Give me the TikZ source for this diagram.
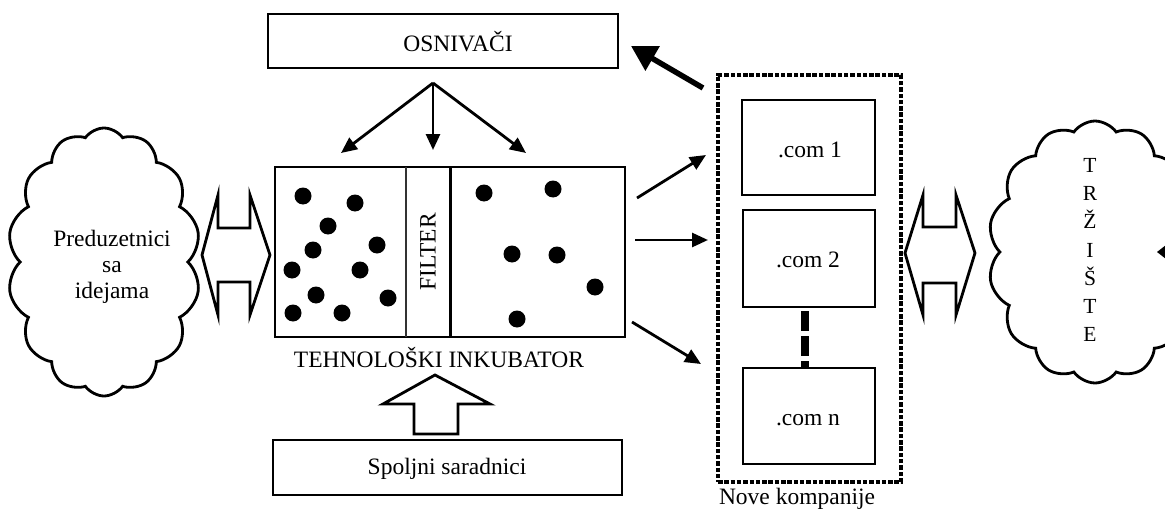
\documentclass[tikz,border=0pt]{standalone}
\usepackage{fontspec}
\setmainfont{Liberation Serif}
\usetikzlibrary{shapes.symbols,arrows.meta}
\begin{document}
\begin{tikzpicture}[x=1pt,y=-1pt,
  every node/.style={font=\fontsize{23.5}{27}\selectfont},
  box/.style={draw, line width=2.8pt, inner sep=0pt},
  arr/.style={line width=2.8pt, -{Triangle[length=16pt,width=14pt]}},
  bigarr/.style={line width=5.5pt, -{Triangle[length=25pt,width=27pt]}},
  hollow/.style={draw, line width=2.8pt, fill=white, line join=miter},
  dot/.style={fill=black},
  cloudbox/.style={cloud, draw, line width=2.8pt, cloud ignores aspect, inner sep=0pt}]
\useasboundingbox (0,0) rectangle (1165,511);
\clip (0,0) rectangle (1165,511);

% founders
\node[box, minimum width=350pt, minimum height=54pt] (osn) at (443,41) {};
\node (osnt) at (458,42) {OSNIVAČI};

% incubator
\node[box, minimum width=350pt, minimum height=170pt] (ink) at (450,252) {};
\draw[line width=2.2pt, black!80] (406,167) -- (406,337);
\draw[line width=3pt] (450,167) -- (450,337);
\node[rotate=90] (filt) at (428,252) {FILTER};
\node (inkt) at (439,358) {TEHNOLOŠKI INKUBATOR};
\foreach \p in {(303,196),(355,203),(328,226),(377,245),(313,250),(292,270),(360,270),(316,295),(388,298),(293,313),(342,313),
                (484,193),(553,189),(512,254),(557,255),(595,287),(517,319)}
  \fill[dot] \p circle (8.5pt);

% arrows from founders
\coordinate (osrc) at (433,83);
\coordinate (t1) at (341,153);
\coordinate (t2) at (433,150);
\coordinate (t3) at (526,153);
\draw[arr] (osrc) -- (t1);
\draw[arr] (osrc) -- (t2);
\draw[arr] (osrc) -- (t3);

% external collaborators
\node[box, minimum width=349pt, minimum height=55pt] (spo) at (447.5,467.5) {};
\node (spot) at (447,469) {Spoljni saradnici};
\draw[hollow] (435,375) -- (490,404) -- (458,404) -- (458,434) -- (414,434) -- (414,404) -- (383,404) -- cycle;

% entrepreneurs cloud
\node[cloudbox, cloud puffs=14, cloud puff arc=110, minimum width=193pt, minimum height=268pt] (ent) at (104,262) {};
\node[align=center] (entt) at (112,267) {Preduzetnici\\[-1pt]sa\\[-1pt]idejama};
\draw[hollow] (202,255) -- (218,195) -- (218,228) -- (250,228) -- (250,195) -- (270,255) -- (250,315) -- (250,282) -- (218,282) -- (218,315) -- cycle;

% new companies
\node[draw, line width=3.2pt, dash pattern=on 4.5pt off 1.8pt, minimum width=183pt, minimum height=407pt, inner sep=0pt] (nk) at (809.5,278.5) {};
\node (nkt) at (797,499) {Nove kompanije};
\node[box, minimum width=133pt, minimum height=95pt] (c1) at (808.5,147.5) {};
\node at (810,150) {.com 1};
\node[box, minimum width=132pt, minimum height=97pt] (c2) at (809,258.5) {};
\node at (808,260) {.com 2};
\node[box, minimum width=132pt, minimum height=96pt] (cn) at (809,416) {};
\node at (808,420) {.com n};
\draw[line width=8pt, dash pattern=on 20pt off 5pt, dash phase=-3pt] ([xshift=-4pt]c2.south) -- ([xshift=-4pt]cn.north);

% arrows incubator -> companies
\coordinate (a1s) at (637,198); \coordinate (a1e) at (706,155);
\coordinate (a2s) at (635,240); \coordinate (a2e) at (708,240);
\coordinate (a3s) at (632,322); \coordinate (a3e) at (701,364);
\draw[arr] (a1s) -- (a1e);
\draw[arr] (a2s) -- (a2e);
\draw[arr] (a3s) -- (a3e);

% companies -> founders
\coordinate (bs) at (703,88); \coordinate (be) at (631,46);
\draw[bigarr] (bs) -- (be);

% market cloud
\node[cloudbox, cloud puffs=14, cloud puff arc=110, minimum width=214pt, minimum height=262pt] (mkt) at (1095,252) {};
\node[align=center, font=\fontsize{21.5}{28.2}\selectfont] (mktt) at (1090,250) {T\\R\\Ž\\I\\Š\\T\\E};
\draw[hollow] (905,253) -- (923,195) -- (923,227) -- (956,227) -- (956,195) -- (975,253) -- (956,315) -- (956,283) -- (923,283) -- (923,315) -- cycle;
\fill (1157,252) -- (1166,245) -- (1166,259) -- cycle;
\end{tikzpicture}
\end{document}
